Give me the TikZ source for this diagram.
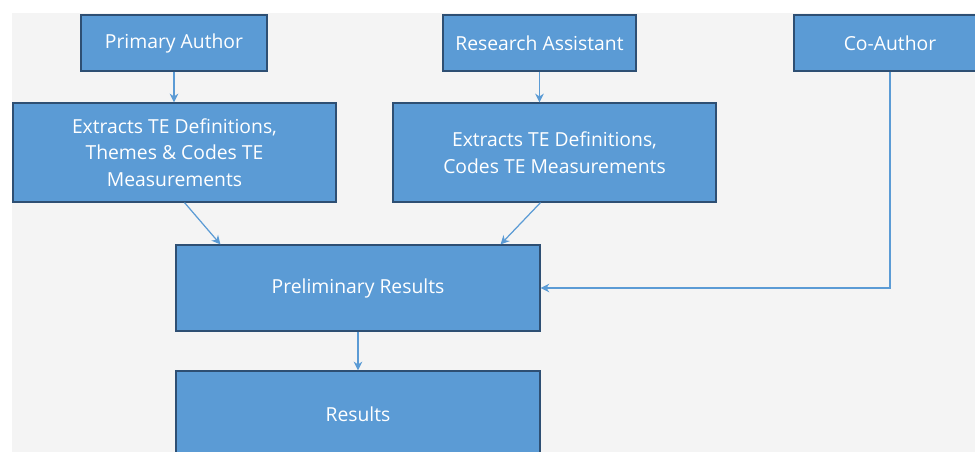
\documentclass[tikz,border=0pt]{standalone}
\usepackage{fontspec}
\setmainfont{Open Sans}
\usetikzlibrary{arrows.meta}
\definecolor{boxblue}{HTML}{5B9BD5}
\definecolor{boxedge}{HTML}{2E4F73}
\definecolor{paper}{HTML}{F4F4F4}
\begin{document}
\begin{tikzpicture}[x=0.02cm, y=-0.02cm,
    box/.style={draw=boxedge, line width=0.7pt, fill=boxblue, text=white,
        font=\fontsize{11}{15.2}\selectfont, align=center, inner sep=0pt},
    flow/.style={-{Stealth[length=5pt,width=5pt]}, draw=boxblue, line width=0.7pt}]
    \useasboundingbox (0,0) rectangle (975,452);
    \clip (0,0) rectangle (975,452);
    \fill[white] (0,0) rectangle (975,452);
    \fill[paper] (12,13) rectangle (975,452);

    % Roles
    \node[box, minimum width=3.72cm, minimum height=1.12cm] (primary) at (174,43) {Primary Author};
    \node[box, minimum width=3.86cm, minimum height=1.12cm] (assistant) at (539.5,43) {Research Assistant};
    \node[box, minimum width=3.84cm, minimum height=1.12cm] (coauthor) at (890,43) {Co-Author};

    % Extraction steps
    \node[box, minimum width=6.46cm, minimum height=1.98cm] (extractA) at (174.5,152.5)
        {Extracts TE Definitions,\\Themes \& Codes TE\\Measurements};
    \node[box, minimum width=6.46cm, minimum height=1.98cm] (extractB) at (554.5,152.5)
        {Extracts TE Definitions,\\Codes TE Measurements};

    % Results
    \node[box, minimum width=7.28cm, minimum height=1.72cm] (prelim) at (358,288) {Preliminary Results};
    \node[box, minimum width=7.28cm, minimum height=1.72cm] (results) at (358,414) {Results};

    % Arrows
    \draw[flow] (primary) -- (extractA.north -| primary);
    \draw[flow] (assistant) -- (extractB.north -| assistant);
    \draw[flow] (extractA.south) ++(10,0) coordinate (a1) -- ([xshift=0.9cm]prelim.north west);
    \draw[flow] (extractB.south) ++(-14,0) coordinate (b1) -- ([xshift=-0.8cm]prelim.north east);
    \draw[flow] (coauthor) |- (prelim.east);
    \draw[flow] (prelim) -- (results);
\end{tikzpicture}
\end{document}
